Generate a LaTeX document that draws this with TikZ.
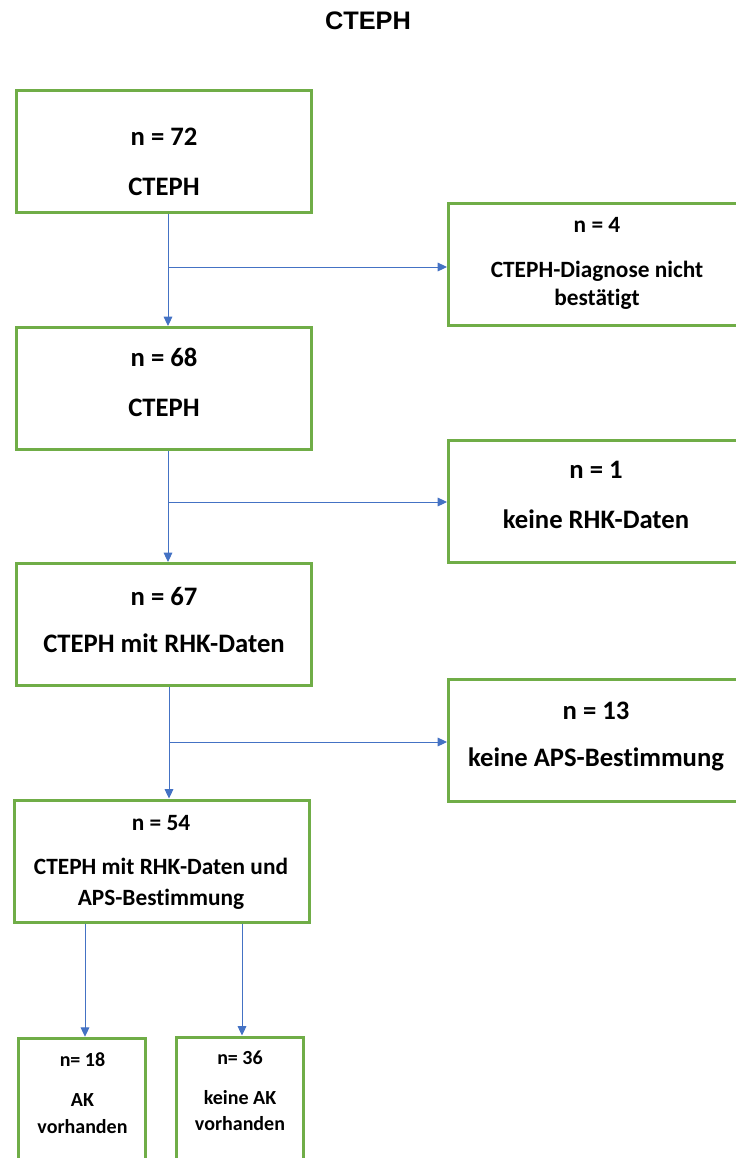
\documentclass[tikz,border=0pt]{standalone}
\usepackage{fontspec}
\setmainfont{Carlito}[Ligatures=NoCommon]
\newfontfamily\titlefont{Liberation Sans}
\usetikzlibrary{arrows.meta}
\definecolor{boxgreen}{RGB}{112,173,71}
\definecolor{flowblue}{RGB}{68,114,196}
\tikzset{
  box/.style={draw=boxgreen, line width=2.25pt, minimum width=221.25pt, minimum height=91.5pt, inner sep=0pt},
  sidebox/.style={box, minimum width=226.1pt},
  smallbox/.style={box, minimum width=95.25pt, minimum height=92.6pt},
  flow/.style={draw=flowblue, line width=0.75pt, -{Triangle[length=7pt,width=6.5pt]}},
  txt/.style={align=center, inner sep=0pt},
  bigtxt/.style={txt, font=\bfseries\fontsize{20}{24}\selectfont},
  midtxt/.style={txt, font=\bfseries\fontsize{17.5}{21}\selectfont},
  smalltxt/.style={txt, font=\bfseries\fontsize{15}{18}\selectfont}
}
\begin{document}
\begin{tikzpicture}[x=0.75pt,y=-0.75pt]
\useasboundingbox (0,0) rectangle (736,1158);
\node[font=\titlefont\bfseries\fontsize{19}{23}\selectfont, inner sep=0pt] (title) at (368,21) {CTEPH};
\node[box] (b1) at (164,151.5) {};
\node[sidebox] (b2) at (599.25,264.5) {};
\node[box] (b3) at (164,388.5) {};
\node[sidebox] (b4) at (599.25,501.5) {};
\node[box] (b5) at (164,624.5) {};
\node[sidebox] (b6) at (599.25,740.5) {};
\node[box] (b7) at (162,861) {};
\node[smallbox] (b8) at (82,1100) {};
\node[smallbox] (b9) at (240,1098.75) {};
\node[bigtxt] (t1) at (164,162) {n = 72\\[13.5pt]CTEPH};
\node[midtxt] (t2) at (597,263.8) {n = 4\\[12.75pt]CTEPH-Diagnose nicht\\bestätigt};
\node[bigtxt] (t3) at (164,382) {n = 68\\[13.5pt]CTEPH};
\node[bigtxt] (t4) at (596,495) {n = 1\\[13.5pt]keine RHK-Daten};
\node[bigtxt] (t5) at (164,619.5) {n = 67\\[11.25pt]CTEPH mit RHK-Daten};
\node[bigtxt] (t6) at (596,737) {n = 13\\[11.25pt]keine APS-Bestimmung};
\node[midtxt] (t7) at (161,862) {n = 54\\[12pt]CTEPH mit RHK-Daten und\\[2.25pt]APS-Bestimmung};
\node[smalltxt] (t8) at (82.5,1093.5) {n= 18\\[12pt]AK\\[2.25pt]vorhanden};
\node[smalltxt] (t9) at (240,1091) {n= 36\\[12pt]keine AK\\[1.5pt]vorhanden};
\coordinate (j1) at (168,267);
\coordinate (j2) at (168,502);
\coordinate (j3) at (169,742);
\draw[flow] (b1.south -| j1) -- (b3.north -| j1);
\draw[flow] (j1) -- (j1 -| b2.west);
\draw[flow] (b3.south -| j2) -- (b5.north -| j2);
\draw[flow] (j2) -- (j2 -| b4.west);
\draw[flow] (b5.south -| j3) -- (b7.north -| j3);
\draw[flow] (j3) -- (j3 -| b6.west);
\draw[flow] ([xshift=2.25pt]b7.south -| b8.north) -- ([xshift=2.25pt]b8.north);
\draw[flow] ([xshift=1.5pt]b7.south -| b9.north) -- ([xshift=1.5pt]b9.north);
\end{tikzpicture}
\end{document}
